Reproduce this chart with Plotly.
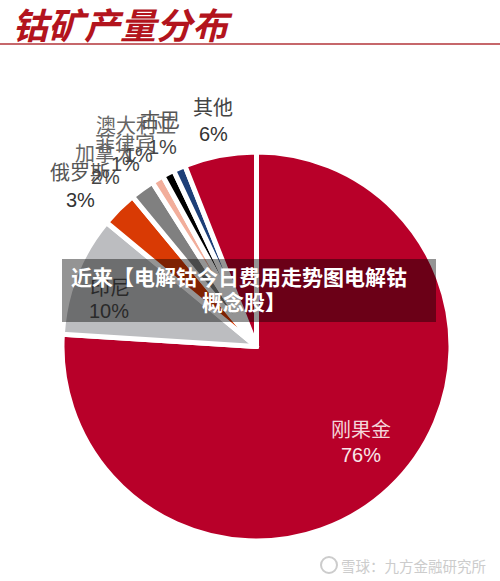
import plotly.graph_objects as go

W, H = 500, 581
CJK = "Noto Sans CJK SC"
LATIN = "Liberation Sans, Noto Sans CJK SC"

countries = ["刚果金", "印尼", "俄罗斯", "加拿大", "菲律宾", "澳大利亚", "古巴", "其他"]
shares = [76, 10, 3, 2, 1, 1, 1, 6]
slice_colors = ["#b80029", "#bcbdc0", "#d93a04", "#808080", "#f2ae9b", "#000000", "#1d3f78", "#b80029"]
value_labels = ["76%", "10%", "3%", "2%", "1%", "1%", "1%", "6%"]
name_xy = [(361, 428), (110, 287), (80, 172), (105, 152), (125, 142), (136, 125), (160, 120), (213, 107)]
value_xy = [(361, 455), (109, 311), (80, 200), (105, 177), (125, 164), (138, 155), (162, 147), (213, 134)]
name_colors = ["#f4d5da", "#2a2a2a", "#555555", "#666666", "#666666", "#666666", "#555555", "#444444"]
value_colors = ["#f8e6e9", "#2a2a2a", "#333333", "#444444", "#444444", "#444444", "#444444", "#333333"]

title_text = "钴矿产量分布"
overlay_lines = ["近来【电解钴今日费用走势图电解钴", "概念股】"]
watermark = "雪球：九方金融研究所"


def px(x):
    return x / W


def py(y):
    return 1 - y / H


fig = go.Figure(
    go.Pie(
        labels=countries,
        values=shares,
        sort=False,
        direction="clockwise",
        rotation=0,
        textinfo="none",
        hoverinfo="label+percent",
        marker=dict(colors=slice_colors, line=dict(color="white", width=5)),
        domain=dict(x=[px(62), px(451)], y=[py(541), py(152)]),
        showlegend=False,
    )
)

annotations = []


def add_text(x, y, text, size, color, family=LATIN):
    annotations.append(
        dict(
            x=px(x), y=py(y), xref="paper", yref="paper",
            text=text, showarrow=False, xanchor="center", yanchor="middle",
            font=dict(family=family, size=size, color=color),
        )
    )


for name, xy, c in zip(countries, name_xy, name_colors):
    add_text(xy[0], xy[1], name, 20, c, CJK)
for val, xy, c in zip(value_labels, value_xy, value_colors):
    add_text(xy[0], xy[1], val, 20, c)

add_text(122, 23, "<b><i>" + title_text + "</i></b>", 36, "#b3141d", CJK)
add_text(239, 276, "<b>" + overlay_lines[0] + "</b>", 21, "#ffffff", CJK)
add_text(244, 301, "<b>" + overlay_lines[1] + "</b>", 21, "#ffffff", CJK)
add_text(413, 565, watermark, 14.5, "#cccccc", CJK)

shapes = [
    dict(type="line", xref="paper", yref="paper", x0=0, x1=1, y0=py(44), y1=py(44),
         line=dict(color="#b3353a", width=1.5)),
    dict(type="rect", xref="paper", yref="paper", x0=px(62), x1=px(436), y0=py(259), y1=py(322),
         fillcolor="rgba(0,0,0,0.42)", line=dict(width=0), layer="above"),
    dict(type="circle", xref="paper", yref="paper", x0=px(321), x1=px(337), y0=py(573), y1=py(557),
         line=dict(color="#cccccc", width=2), fillcolor="rgba(0,0,0,0)"),
]

fig.update_layout(
    width=W, height=H,
    margin=dict(l=0, r=0, t=0, b=0),
    paper_bgcolor="white",
    annotations=annotations,
    shapes=shapes,
)
fig.write_html(
    "out.html",
    config={"displayModeBar": False},
    post_script="document.body.style.margin='0';document.documentElement.style.overflow='hidden';",
)
